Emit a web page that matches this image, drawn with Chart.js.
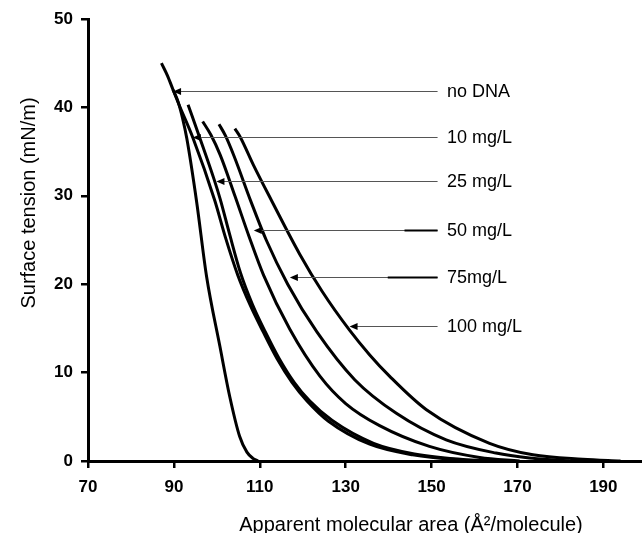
<!DOCTYPE html>
<html>
<head>
<meta charset="utf-8">
<script src="https://cdn.jsdelivr.net/npm/chart.js@4.4.1/dist/chart.umd.min.js"></script>
<style>
  html, body { margin: 0; padding: 0; background: #fff; }
</style>
</head>
<body>
<canvas id="chart" width="642" height="533"></canvas>
<script>
// isotherms (area in A^2/molecule, tension in mN/m)
const noDnaX = [87.1, 88.5, 89.8, 91.0, 92.0, 93.0, 95.3, 97.6, 100.7, 103.0, 105.3, 107.0, 108.4, 109.6];
const noDnaY = [45.0, 43.6, 42.0, 40.6, 38.8, 36.5, 29.3, 20.9, 13.0, 7.3, 2.8, 1.0, 0.3, 0];

const mg10X = [89.8, 91.2, 94.4, 99.5, 102.0, 104.9, 107.8, 110.8, 114.0, 117.5, 121.0, 126.0, 135.6, 145.6, 157.0, 166.0];
const mg10Y = [42.0, 40.3, 36.6, 29.5, 25.3, 21.0, 17.6, 14.6, 11.6, 8.9, 6.8, 4.5, 1.9, 0.7, 0.12, 0];

const mg25X = [93.3, 96.0, 99.4, 100.8, 103.0, 105.5, 108.3, 111.3, 114.5, 118.0, 121.6, 126.8, 136.5, 146.0, 158.0, 167.0];
const mg25Y = [40.3, 36.6, 31.8, 29.6, 25.6, 21.3, 17.7, 14.6, 11.6, 8.9, 6.8, 4.6, 2.0, 0.8, 0.15, 0];

const mg50X = [96.7, 98.6, 100.8, 104.2, 107.5, 110.9, 117.0, 124.0, 130.0, 137.9, 149.5, 161.2, 170.5];
const mg50Y = [38.4, 36.9, 34.6, 30.0, 25.4, 21.0, 14.9, 9.6, 6.5, 4.0, 1.65, 0.4, 0];

const mg75X = [100.5, 102.0, 104.0, 107.9, 111.5, 116.5, 123.3, 132.1, 141.8, 153.4, 165.0, 172.8, 182.0];
const mg75Y = [38.1, 36.8, 34.5, 29.4, 25.0, 20.0, 14.6, 9.2, 5.4, 2.4, 0.9, 0.34, 0];

const mg100X = [104.2, 105.5, 108.5, 112.7, 119.3, 124.5, 130.9, 135.6, 140.2, 148.8, 163.5, 173.6, 185.2, 194.0];
const mg100Y = [37.6, 36.6, 33.5, 29.5, 23.4, 19.2, 14.8, 12.0, 9.6, 5.8, 2.0, 0.7, 0.2, 0];

const xTicks = [70, 90, 110, 130, 150, 170, 190];
const yTicks = [0, 10, 20, 30, 40, 50];

// arrow labels: text, tip position on the curve, label row
const arrowLabels = ['no DNA', '10 mg/L', '25 mg/L', '50 mg/L', '75mg/L', '100 mg/L'];
const arrowTipX = [89.8, 94.4, 99.9, 108.6, 117.0, 130.9];
const arrowY = [41.9, 36.6, 31.7, 26.1, 20.8, 15.3];
const heavyFromX = [null, null, null, 143.7, 139.8, null]; // darker stretch next to the label
const arrowEndX = 151.4;
const labelX = 153.6;

const series = [
  [noDnaX, noDnaY], [mg10X, mg10Y], [mg25X, mg25Y],
  [mg50X, mg50Y], [mg75X, mg75Y], [mg100X, mg100Y]
];

const FONT = '"Liberation Sans", Arial, sans-serif';

const annotate = {
  id: 'annotate',
  afterDatasetsDraw(chart) {
    const { ctx } = chart;
    const x = chart.scales.x, y = chart.scales.y;
    ctx.save();
    arrowLabels.forEach((label, i) => {
      const py = Math.round(y.getPixelForValue(arrowY[i])) + 0.5;
      const tip = x.getPixelForValue(arrowTipX[i]);
      const end = x.getPixelForValue(arrowEndX);
      ctx.strokeStyle = '#555';
      ctx.lineWidth = 1;
      ctx.beginPath();
      ctx.moveTo(end, py);
      ctx.lineTo(tip + 6, py);
      ctx.stroke();
      if (heavyFromX[i] !== null) {
        ctx.strokeStyle = '#000';
        ctx.lineWidth = 2;
        ctx.beginPath();
        ctx.moveTo(x.getPixelForValue(heavyFromX[i]), py);
        ctx.lineTo(end, py);
        ctx.stroke();
      }
      ctx.fillStyle = '#000';
      ctx.beginPath();
      ctx.moveTo(tip, py);
      ctx.lineTo(tip + 8, py - 3.5);
      ctx.lineTo(tip + 8, py + 3.5);
      ctx.closePath();
      ctx.fill();
      ctx.font = '18px ' + FONT;
      ctx.textAlign = 'left';
      ctx.textBaseline = 'middle';
      ctx.fillText(label, x.getPixelForValue(labelX), py + 1);
    });

    // axis titles (not centred on the axes in the original)
    ctx.fillStyle = '#000';
    ctx.font = '20px ' + FONT;
    ctx.textAlign = 'center';
    ctx.textBaseline = 'alphabetic';
    ctx.fillText('Apparent molecular area (Å²/molecule)', 411, 531);
    ctx.translate(35, 203);
    ctx.rotate(-Math.PI / 2);
    ctx.fillText('Surface tension (mN/m)', 0, 0);
    ctx.restore();
  }
};

new Chart(document.getElementById('chart'), {
  type: 'line',
  data: {
    datasets: series.map(([xs, ys], i) => ({
      label: arrowLabels[i],
      data: xs.map((v, j) => ({ x: v, y: ys[j] })),
      borderColor: '#000',
      borderWidth: 3,
      pointRadius: 0,
      fill: false,
      cubicInterpolationMode: 'monotone'
    }))
  },
  options: {
    responsive: false,
    animation: false,
    devicePixelRatio: 1,
    layout: { padding: { top: 19, right: 0, left: 0, bottom: 0 } },
    plugins: {
      legend: { display: false },
      tooltip: { enabled: false }
    },
    scales: {
      x: {
        type: 'linear',
        min: 70,
        max: 199,
        afterBuildTicks: s => { s.ticks = xTicks.map(v => ({ value: v })); },
        afterFit: s => { s.height = 72; },
        ticks: {
          color: '#000',
          font: { family: FONT, size: 17, weight: 'bold' },
          padding: 9,
          maxRotation: 0,
          autoSkip: false
        },
        grid: { drawOnChartArea: false, drawTicks: true, tickLength: 7, color: '#000', lineWidth: 2.5 },
        border: { color: '#000', width: 3 }
      },
      y: {
        min: 0,
        max: 50,
        afterBuildTicks: s => { s.ticks = yTicks.map(v => ({ value: v })); },
        afterFit: s => { s.width = 88; },
        ticks: {
          color: '#000',
          font: { family: FONT, size: 17, weight: 'bold' },
          padding: 8
        },
        grid: { drawOnChartArea: false, drawTicks: true, tickLength: 7, color: '#000', lineWidth: 2.5 },
        border: { color: '#000', width: 3 }
      }
    }
  },
  plugins: [annotate]
});
</script>
</body>
</html>
